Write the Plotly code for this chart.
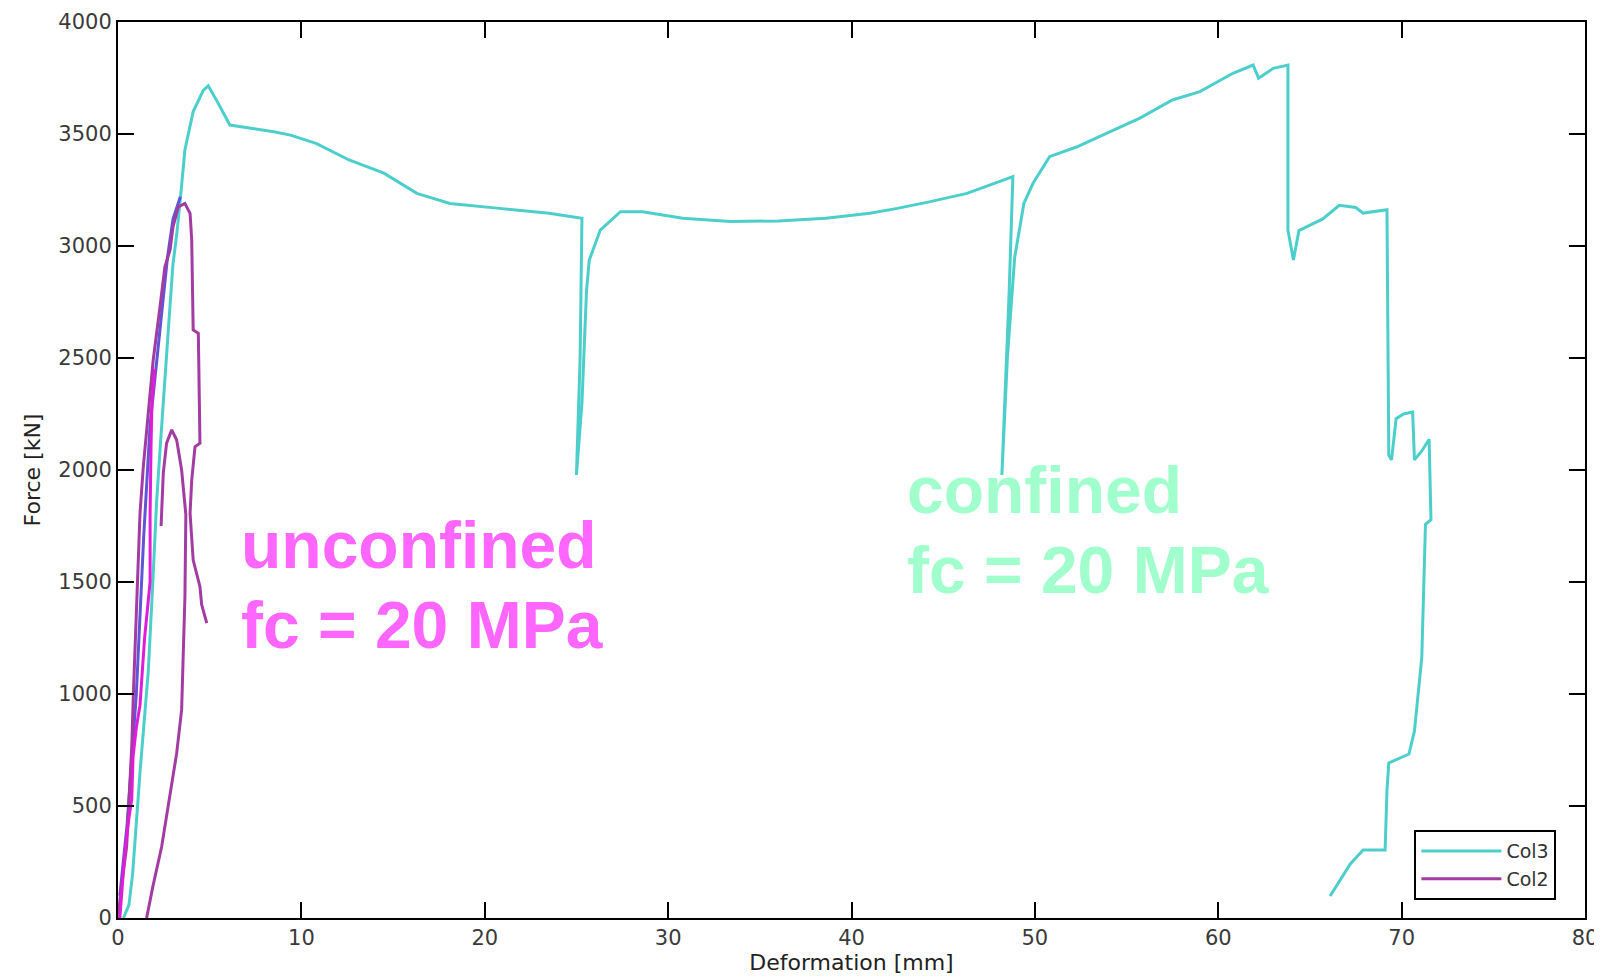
import plotly.graph_objects as go

# ---------------- data ----------------
col3_x = [0.3, 0.6, 0.8, 1.0, 1.2, 1.45, 1.65, 1.9, 2.1, 2.3, 2.5, 2.7, 2.85, 3.0, 3.2, 3.4, 3.65,
          4.1, 4.65, 4.92, 5.38, 6.1, 7.4, 8.5, 9.4, 10.8, 12.6, 14.5, 16.3, 18.1, 20.8, 23.5, 25.3,
          25.2, 25.0, 25.3, 25.55, 25.7, 26.3, 27.4, 28.6, 30.8, 33.4, 36.0, 38.6, 41.0, 42.5, 44.3,
          46.3, 48.8, 48.6, 48.2, 48.5, 48.9, 49.4, 49.9, 50.8, 52.3, 53.9, 55.7, 57.5, 59.0, 60.8,
          61.9, 62.2, 63.0, 63.8, 63.8, 64.1, 64.4, 65.7, 66.6, 67.5, 67.9, 69.2, 69.3, 69.45, 69.7,
          70.1, 70.6, 70.7, 71.1, 71.5, 71.6, 71.3, 71.2, 71.1, 70.7, 70.4, 69.3, 69.2, 69.1, 67.9,
          67.2, 66.1]
col3_y = [0, 60, 200, 450, 650, 900, 1100, 1500, 1850, 2100, 2350, 2600, 2750, 2920, 3050, 3210, 3430,
          3600, 3695, 3715, 3650, 3540, 3525, 3510, 3495, 3458, 3384, 3325, 3235, 3190, 3168, 3146, 3124,
          2500, 1978, 2300, 2800, 2937, 3071, 3153, 3153, 3124, 3109, 3112, 3124, 3146, 3168, 3198,
          3235, 3310, 2800, 1978, 2500, 2950, 3190, 3280, 3399, 3443, 3503, 3570, 3652, 3689, 3771,
          3808, 3749, 3793, 3808, 3071, 2938, 3069, 3121, 3182, 3172, 3147, 3162, 2065, 2045, 2229,
          2250, 2259, 2045, 2085, 2137, 1778, 1757, 1430, 1163, 835, 732, 692, 569, 304, 304,
          241, 98]

col2_x = [0.0, 0.2, 0.47, 0.75, 0.84, 1.02, 1.2, 1.38, 1.65, 1.92, 2.29, 2.56, 2.84, 3.0, 3.29,
          3.65, 3.93, 4.02, 4.1, 4.38, 4.47, 4.2, 4.02, 3.93, 4.1, 4.47, 4.56, 4.84]
col2_y = [0, 150, 318, 765, 1003, 1434, 1807, 2015, 2268, 2491, 2729, 2908, 2982, 3086, 3175,
          3190, 3146, 3027, 2625, 2610, 2120, 2104, 1955, 1807, 1598, 1479, 1400, 1316]

col2b_x = [1.56, 1.9, 2.38, 2.84, 3.2, 3.47, 3.56, 3.65, 3.7, 3.47, 3.2, 2.93, 2.65, 2.47, 2.35]
col2b_y = [0, 140, 318, 557, 736, 929, 1152, 1434, 1800, 2000, 2134, 2179, 2120, 1986, 1750]

col2c_x = [0.1, 0.38, 0.6, 0.75, 0.82, 1.0, 1.2, 1.45, 1.75, 1.75, 1.8, 1.85, 2.0]
col2c_y = [0, 300, 450, 530, 720, 850, 950, 1250, 1500, 1800, 2100, 2300, 2450]

col2d_x = [0.1, 0.5, 1.0, 1.4, 1.75, 2.0, 2.5, 2.7, 3.0, 3.4]
col2d_y = [100, 420, 1000, 1700, 2200, 2400, 2800, 2950, 3120, 3220]

x_ticks = [0, 10, 20, 30, 40, 50, 60, 70, 80]
y_ticks = [0, 500, 1000, 1500, 2000, 2500, 3000, 3500, 4000]

labels_unconfined = ["unconfined", "fc = 20 MPa"]
labels_confined = ["confined", "fc = 20 MPa"]

# ---------------- figure ----------------
CYAN = "#4CCFCB"
PURPLE = "#A23CA2"
MAGENTA = "#E01CD8"
BLUE = "#6055D6"

fig = go.Figure()
fig.add_trace(go.Scatter(x=col3_x, y=col3_y, mode="lines", name="Col3",
                         line=dict(color=CYAN, width=3)))
fig.add_trace(go.Scatter(x=col2d_x, y=col2d_y, mode="lines", showlegend=False,
                         line=dict(color=BLUE, width=3)))
fig.add_trace(go.Scatter(x=col2_x, y=col2_y, mode="lines", name="Col2",
                         line=dict(color=PURPLE, width=3)))
fig.add_trace(go.Scatter(x=col2b_x, y=col2b_y, mode="lines", showlegend=False,
                         line=dict(color=PURPLE, width=3)))
fig.add_trace(go.Scatter(x=col2c_x, y=col2c_y, mode="lines", showlegend=False,
                         line=dict(color=MAGENTA, width=3)))

ann_font = dict(family="Liberation Sans, Arial, sans-serif", size=66)
for txt, yv in zip(labels_unconfined, [1665, 1308]):
    fig.add_annotation(x=6.6, y=yv, text="<b>%s</b>" % txt, showarrow=False,
                       xanchor="left", yanchor="middle",
                       font=dict(color="#FF66FF", **ann_font))
for txt, yv in zip(labels_confined, [1911, 1554]):
    fig.add_annotation(x=42.9, y=yv, text="<b>%s</b>" % txt, showarrow=False,
                       xanchor="left", yanchor="middle",
                       font=dict(color="#A0FFCC", **ann_font))

axis_common = dict(showline=True, linecolor="black", linewidth=2, mirror="ticks",
                   ticks="inside", ticklen=16, tickwidth=2, tickcolor="black",
                   showgrid=False, zeroline=False,
                   tickfont=dict(family="DejaVu Sans", size=21, color="#3a3a3a"))

fig.update_xaxes(range=[0, 80], tickvals=x_ticks, **axis_common,
                 title=dict(text="Deformation [mm]", standoff=2,
                            font=dict(family="DejaVu Sans", size=22, color="#222222")))
fig.update_yaxes(range=[0, 4000], tickvals=y_ticks, **axis_common,
                 title=dict(text="Force [kN]", standoff=12,
                            font=dict(family="DejaVu Sans", size=22, color="#222222")))

fig.update_layout(
    width=1594, height=970,
    margin=dict(l=110, r=17, t=14, b=60, autoexpand=False),
    paper_bgcolor="white", plot_bgcolor="white",
    showlegend=True,
    legend=dict(x=0.9805, y=0.02, xanchor="right", yanchor="bottom",
                bgcolor="white", bordercolor="black", borderwidth=2,
                font=dict(family="DejaVu Sans", size=19, color="#333333"),
                itemwidth=80, tracegroupgap=0),
)

fig.write_html("out.html")
